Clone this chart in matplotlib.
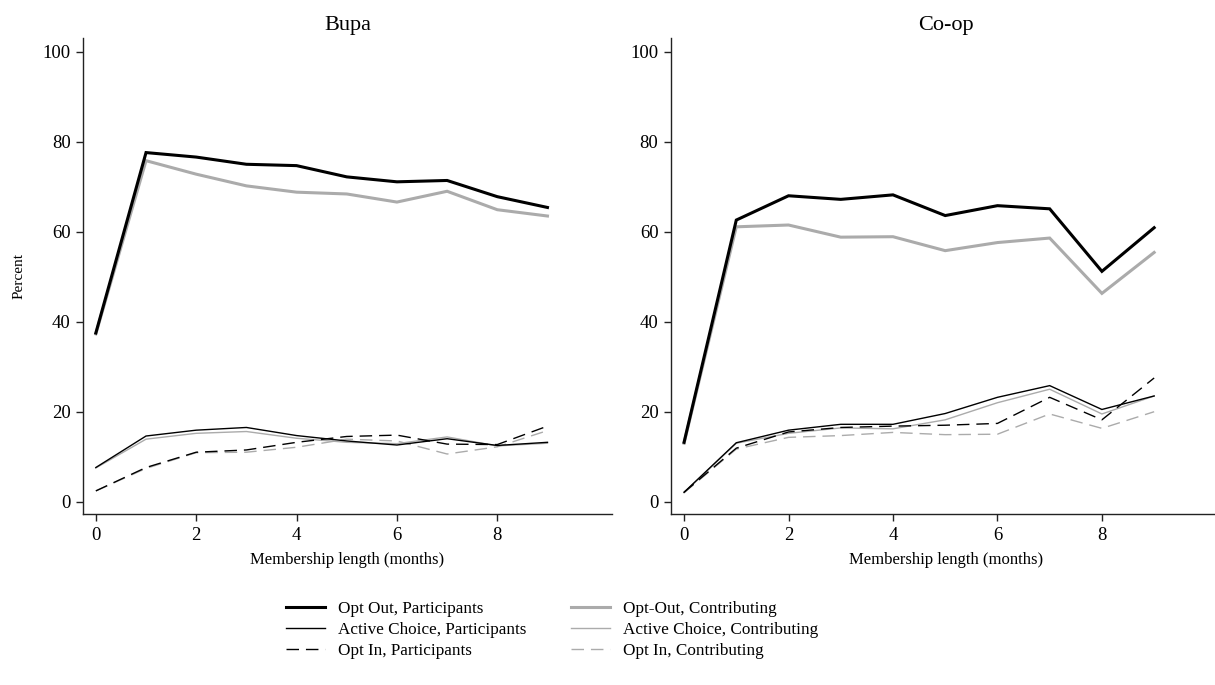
import matplotlib
matplotlib.use("Agg")
import matplotlib.pyplot as plt
from matplotlib.lines import Line2D

plt.rcParams['font.family'] = ['Liberation Serif', 'DejaVu Serif']

months = list(range(10))
panels = ["Bupa", "Co-op"]

# Bupa
bupa_optout_part = [37.5, 77.6, 76.6, 75.0, 74.7, 72.2, 71.1, 71.4, 67.8, 65.4]
bupa_optout_contr = [37.3, 75.8, 72.8, 70.2, 68.8, 68.4, 66.6, 69.0, 64.9, 63.5]
bupa_active_part = [7.6, 14.6, 15.9, 16.5, 14.7, 13.5, 12.6, 14.0, 12.5, 13.2]
bupa_active_contr = [7.5, 13.9, 15.2, 15.6, 14.1, 13.2, 12.9, 14.4, 12.4, 13.0]
bupa_optin_part = [2.4, 7.6, 11.0, 11.5, 13.2, 14.5, 14.8, 12.8, 12.7, 16.8]
bupa_optin_contr = [2.4, 7.4, 10.9, 11.0, 12.1, 13.9, 13.5, 10.6, 12.2, 15.8]

# Co-op
coop_optout_part = [13.2, 62.6, 68.0, 67.2, 68.2, 63.6, 65.8, 65.1, 51.2, 60.9]
coop_optout_contr = [13.0, 61.1, 61.5, 58.8, 58.9, 55.8, 57.6, 58.6, 46.3, 55.4]
coop_active_part = [2.1, 13.1, 15.9, 17.2, 17.2, 19.6, 23.2, 25.8, 20.5, 23.5]
coop_active_contr = [2.0, 13.0, 15.2, 16.4, 16.2, 18.2, 22.0, 25.0, 19.5, 23.5]
coop_optin_part = [2.1, 11.9, 15.5, 16.5, 16.8, 17.0, 17.4, 23.2, 18.2, 27.5]
coop_optin_contr = [2.0, 11.7, 14.3, 14.7, 15.4, 14.9, 15.0, 19.5, 16.3, 20.0]

labels = ["Opt Out, Participants", "Opt-Out, Contributing",
          "Active Choice, Participants", "Active Choice, Contributing",
          "Opt In, Participants", "Opt In, Contributing"]

GRAY = "#ababab"
DASH = (0, (9, 5))
styles = [
    dict(color="black", lw=2.2, ls="-"),
    dict(color=GRAY, lw=2.2, ls="-"),
    dict(color="black", lw=1.0, ls="-"),
    dict(color=GRAY, lw=1.0, ls="-"),
    dict(color="black", lw=1.0, ls=DASH),
    dict(color=GRAY, lw=1.0, ls=DASH),
]

data = {
    "Bupa": [bupa_optout_part, bupa_optout_contr, bupa_active_part,
             bupa_active_contr, bupa_optin_part, bupa_optin_contr],
    "Co-op": [coop_optout_part, coop_optout_contr, coop_active_part,
              coop_active_contr, coop_optin_part, coop_optin_contr],
}

fig = plt.figure(figsize=(12.15, 6.85), dpi=100)
W, H = 1215, 685
ax_rects = [
    [83.3 / W, (H - 514.3) / H, 528.4 / W, 476 / H],
    [671 / W, (H - 514.3) / H, 550 / W, 476 / H],
]

for name, rect in zip(panels, ax_rects):
    ax = fig.add_axes(rect)
    series = data[name]
    order = [1, 3, 5, 0, 2, 4]
    for i in order:
        ax.plot(months, series[i], **styles[i], solid_joinstyle="miter")
    ax.set_xlim(-0.25, 10.28)
    ax.set_ylim(-2.8, 103)
    ax.set_xticks([0, 2, 4, 6, 8])
    ax.set_yticks([0, 20, 40, 60, 80, 100])
    for s in ["top", "right"]:
        ax.spines[s].set_visible(False)
    for s in ["left", "bottom"]:
        ax.spines[s].set_linewidth(1.0)
        ax.spines[s].set_color("#222222")
    ax.tick_params(axis="both", length=5, width=1, labelsize=13.5, color="#222222", pad=4)
    ax.set_xlabel("Membership length (months)", fontsize=12, labelpad=6)
    ax.set_title(name, fontsize=16, pad=6)
    if name == "Bupa":
        ax.set_ylabel("Percent", fontsize=11, labelpad=12)

leg_order = [0, 2, 4, 1, 3, 5]
handles = [Line2D([], [], **styles[i]) for i in leg_order]
leg_labels = [labels[i] for i in leg_order]
fig.legend(handles, leg_labels, ncol=2, loc="center", bbox_to_anchor=(552 / W, 1 - 630 / H),
           frameon=False, fontsize=12.3, handlelength=2.3, columnspacing=2.6,
           labelspacing=0.3, handletextpad=0.75)

fig.savefig("out.png", dpi=100)
